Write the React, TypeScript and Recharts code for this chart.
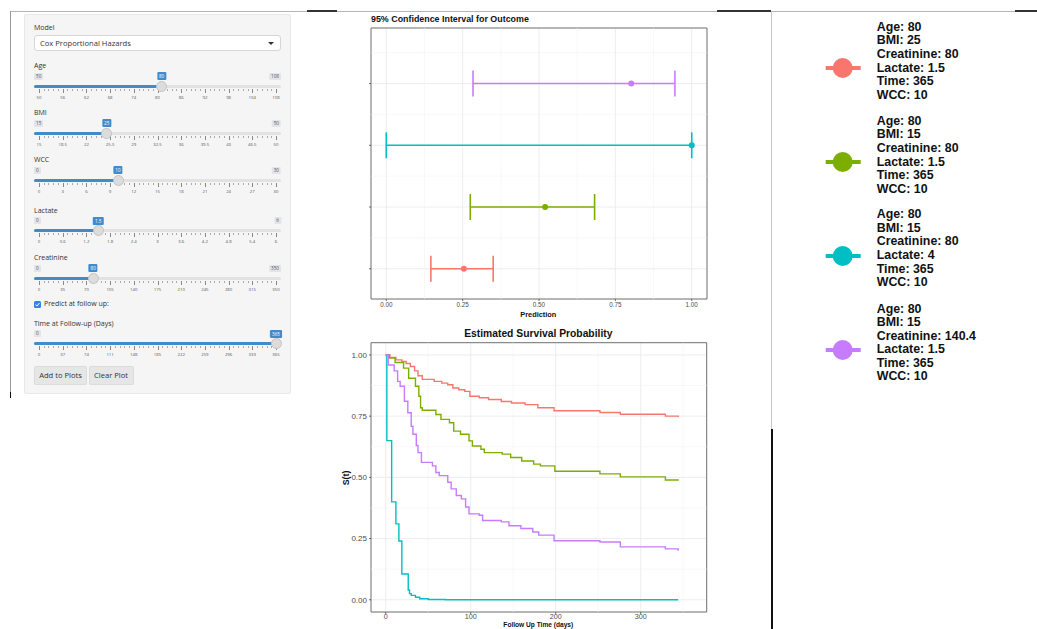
import React from 'react';
import {
  ScatterChart, Scatter, XAxis, YAxis, CartesianGrid, ErrorBar, ReferenceLine, ReferenceArea,
  LineChart, Line,
} from 'recharts';

// ---------------- DATA ----------------
const profileColors = ['#F8766D', '#7CAE00', '#00BFC4', '#C77CFF'];
const profileRows = [1, 2, 3, 4];
const ciEstimate = [0.254, 0.52, 1.0, 0.802];
const ciLower = [0.146, 0.275, 0.0, 0.284];
const ciUpper = [0.35, 0.682, 1.0, 0.945];
const ciXTicks = [0, 0.25, 0.5, 0.75, 1];
const ciXMinor = [0.125, 0.375, 0.625, 0.875];
const ciYMinor = [1.5, 2.5, 3.5, 4.5];

const redTime = [0, 5, 12, 19, 24, 29, 34, 38, 43, 57, 66, 73, 79, 86, 93, 99, 110, 121, 136, 148, 164, 179, 198, 252, 276, 329, 344];
const redSurv = [1, 0.99, 0.98, 0.973, 0.965, 0.953, 0.935, 0.915, 0.9, 0.892, 0.885, 0.878, 0.865, 0.858, 0.851, 0.831, 0.825, 0.818, 0.81, 0.804, 0.797, 0.784, 0.772, 0.765, 0.758, 0.75, 0.747];
const greenTime = [0, 4, 11, 21, 27, 35, 39, 41, 43, 59, 65, 75, 80, 88, 98, 102, 112, 116, 137, 147, 160, 174, 182, 199, 252, 276, 329, 344];
const greenSurv = [1, 0.987, 0.969, 0.946, 0.905, 0.872, 0.831, 0.784, 0.774, 0.757, 0.737, 0.723, 0.689, 0.676, 0.649, 0.628, 0.615, 0.601, 0.595, 0.581, 0.567, 0.554, 0.547, 0.525, 0.514, 0.502, 0.489, 0.486];
const cyanTime = [0, 1.3, 7, 12, 15.5, 19, 26.5, 28, 30, 35, 40, 50, 70, 344];
const cyanSurv = [1, 0.65, 0.4, 0.31, 0.24, 0.105, 0.04, 0.025, 0.018, 0.01, 0.004, 0.001, 0, 0];
const purpleTime = [0, 3, 10, 14, 17, 22, 26, 30, 32, 36, 38, 42, 55, 59, 63, 73, 77, 83, 89, 94, 98, 110, 114, 136, 145, 159, 173, 180, 198, 252, 276, 329, 344];
const purpleSurv = [1, 0.959, 0.935, 0.892, 0.872, 0.811, 0.764, 0.709, 0.676, 0.63, 0.601, 0.561, 0.547, 0.52, 0.507, 0.48, 0.453, 0.426, 0.412, 0.379, 0.351, 0.345, 0.324, 0.318, 0.302, 0.291, 0.277, 0.264, 0.241, 0.236, 0.216, 0.208, 0.2];
const survXTicks = [0, 100, 200, 300];
const survXMinor = [50, 150, 250, 350];
const survYTicks = [0, 0.25, 0.5, 0.75, 1];
const survYMinor = [0.125, 0.375, 0.625, 0.875];

const legendAge = ['80', '80', '80', '80'];
const legendBMI = ['25', '15', '15', '15'];
const legendCreatinine = ['80', '80', '80', '140.4'];
const legendLactate = ['1.5', '1.5', '4', '1.5'];
const legendTime = ['365', '365', '365', '365'];
const legendWCC = ['10', '10', '10', '10'];

// UI sliders
const sliderLabels = ['Age', 'BMI', 'WCC', 'Lactate', 'Creatinine', 'Time at Follow-up (Days)'];
const sliderMin = [50, 15, 0, 0, 0, 0];
const sliderMax = [108, 50, 30, 6, 350, 365];
const sliderValue = [80, 25, 10, 1.5, 80, 365];
const sliderTicks = [
  ['50', '56', '62', '68', '74', '80', '86', '92', '98', '104', '108'],
  ['15', '18.5', '22', '25.5', '29', '32.5', '36', '39.5', '43', '46.5', '50'],
  ['0', '3', '6', '9', '12', '15', '18', '21', '24', '27', '30'],
  ['0', '0.6', '1.2', '1.8', '2.4', '3', '3.6', '4.2', '4.8', '5.4', '6'],
  ['0', '35', '70', '105', '140', '175', '210', '245', '280', '315', '350'],
  ['0', '37', '74', '111', '148', '185', '222', '259', '296', '333', '365'],
];
const sliderTop = [66, 113, 160, 210.7, 258.3, 323.7];

// ---------------- BUILD ----------------
const ciSeries = profileRows.map((r, i) => ({
  color: profileColors[i],
  data: [{ x: ciEstimate[i], y: r, err: [ciEstimate[i] - ciLower[i], ciUpper[i] - ciEstimate[i]] }],
}));
const mk = (t: number[], s: number[]) => t.map((v, i) => ({ t: v, s: s[i] }));
const survSeries = [
  { color: profileColors[0], data: mk(redTime, redSurv) },
  { color: profileColors[1], data: mk(greenTime, greenSurv) },
  { color: profileColors[2], data: mk(cyanTime, cyanSurv) },
  { color: profileColors[3], data: mk(purpleTime, purpleSurv) },
];

const GG = "'Liberation Sans', Arial, Helvetica, sans-serif";
const UI = "'Open Sans', 'Liberation Sans', sans-serif";

function abs(x: number, y: number, extra: React.CSSProperties = {}): React.CSSProperties {
  return { position: 'absolute', left: x, top: y, ...extra };
}

const TRACK_L = 34, TRACK_R = 281, GRID_L = 39, GRID_R = 276;

function Slider({ idx }: { idx: number }) {
  const T = sliderTop[idx];
  const frac = (sliderValue[idx] - sliderMin[idx]) / (sliderMax[idx] - sliderMin[idx]);
  const hx = GRID_L + frac * (GRID_R - GRID_L);
  const ticks = sliderTicks[idx];
  const n = ticks.length - 1;
  const step = (GRID_R - GRID_L) / n;
  const minor: number[] = [];
  for (let k = 0; k < n; k++) for (let m = 1; m < 5; m++) minor.push(GRID_L + k * step + (m * step) / 5);
  const small: React.CSSProperties = { fontFamily: UI, fontSize: 4.6, color: '#555', lineHeight: '7px', height: 7 };
  return (
    <>
      <div style={abs(34, T - 5, { fontFamily: UI, fontSize: 7, color: '#333', lineHeight: '10px' })}>{sliderLabels[idx]}</div>
      <div style={abs(34, T + 6.5, { ...small, background: '#e1e4e9', padding: '0 2px', borderRadius: 1 })}>{String(sliderMin[idx])}</div>
      <div style={abs(TRACK_R, T + 6.5, { ...small, background: '#e1e4e9', padding: '0 2px', borderRadius: 1, transform: 'translateX(-100%)' })}>{String(sliderMax[idx])}</div>
      <div style={abs(hx, T + 6, { ...small, height: 8, lineHeight: '8px', background: '#428bca', color: '#fff', padding: '0 2px', borderRadius: 1, transform: 'translateX(-50%)' })}>{String(sliderValue[idx])}</div>
      <div style={abs(TRACK_L, T + 18.5, { width: TRACK_R - TRACK_L, height: 3, background: '#e2e2e2', borderRadius: 2 })} />
      <div style={abs(TRACK_L, T + 18.5, { width: hx - TRACK_L, height: 3, background: '#428bca', borderRadius: 2 })} />
      {ticks.map((t, k) => (
        <React.Fragment key={k}>
          <div style={abs(GRID_L + k * step, T + 22.5, { width: 0.7, height: 4, background: '#888' })} />
          <div style={abs(GRID_L + k * step, T + 27.5, { ...small, fontSize: 4.3, transform: 'translateX(-50%)', whiteSpace: 'nowrap' })}>{t}</div>
        </React.Fragment>
      ))}
      {minor.map((x, k) => (
        <div key={'m' + k} style={abs(x, T + 22.5, { width: 0.6, height: 2, background: '#aaa' })} />
      ))}
      <div style={abs(hx - 5.5, T + 14.5, { width: 11, height: 11, borderRadius: '50%', background: '#dcdcdc', border: '0.5px solid #c4c4c4', boxSizing: 'border-box' })} />
    </>
  );
}

function LeftPanel() {
  return (
    <>
      <div style={abs(24, 14, { width: 267, height: 380, background: '#f5f5f5', border: '1px solid #e8e8e8', boxSizing: 'border-box', borderRadius: 2 })} />
      <div style={abs(34, 23, { fontFamily: UI, fontSize: 7, color: '#333', lineHeight: '10px' })}>Model</div>
      <div style={abs(34, 35, { width: 247, height: 16, background: '#fff', border: '1px solid #d6d6d6', borderRadius: 3, boxSizing: 'border-box' })} />
      <div style={abs(40, 37.5, { fontFamily: UI, fontSize: 7.6, color: '#333', lineHeight: '11px' })}>Cox Proportional Hazards</div>
      <div style={abs(268, 41.5, { width: 0, height: 0, borderLeft: '3px solid transparent', borderRight: '3px solid transparent', borderTop: '3px solid #333' })} />
      {sliderLabels.map((_, i) => <Slider key={i} idx={i} />)}
      <div style={abs(34, 301, { width: 6.5, height: 6.5, background: '#3a7ef0', borderRadius: 1.5 })} />
      <svg style={abs(34, 301)} width={7} height={7}><path d="M1.5 3.6 L3 5 L5.5 2" stroke="#fff" strokeWidth={1} fill="none" /></svg>
      <div style={abs(44, 299, { fontFamily: UI, fontSize: 7, color: '#333', lineHeight: '10px' })}>Predict at follow up:</div>
      <div style={abs(34, 366, { width: 53, height: 19, background: '#e6e6e6', border: '1px solid #dcdcdc', boxSizing: 'border-box', borderRadius: 2, fontFamily: UI, fontSize: 7.6, color: '#333', textAlign: 'center', lineHeight: '17px' })}>Add to Plots</div>
      <div style={abs(88.5, 366, { width: 45, height: 19, background: '#e6e6e6', border: '1px solid #dcdcdc', boxSizing: 'border-box', borderRadius: 2, fontFamily: UI, fontSize: 7.6, color: '#333', textAlign: 'center', lineHeight: '17px' })}>Clear Plot</div>
    </>
  );
}

const dot = (color: string) => (props: any) => <circle cx={props.cx} cy={props.cy} r={3} fill={color} />;

function CIChart() {
  return (
    <div style={abs(340, 0)}>
      <ScatterChart width={380} height={330} margin={{ top: 28, right: 13, bottom: 17, left: 25 }}>
        <CartesianGrid stroke="#ebebeb" strokeWidth={0.9} />
        {ciXMinor.map((v) => <ReferenceLine key={'x' + v} x={v} stroke="#f3f3f3" strokeWidth={0.6} />)}
        {ciYMinor.map((v) => <ReferenceLine key={'y' + v} y={v} stroke="#f3f3f3" strokeWidth={0.6} />)}
        <XAxis type="number" dataKey="x" domain={[-0.05, 1.05]} ticks={ciXTicks} allowDataOverflow
          tickFormatter={(v: number) => v.toFixed(2)} height={14} axisLine={false} tickSize={2}
          tickLine={{ stroke: '#333', strokeWidth: 0.7 }} tick={{ fontSize: 6.3, fill: '#4d4d4d', fontFamily: GG }} />
        <YAxis type="number" dataKey="y" domain={[0.51, 4.9]} ticks={profileRows} allowDataOverflow
          tickFormatter={() => ''} width={6} axisLine={false} tickSize={2}
          tickLine={{ stroke: '#333', strokeWidth: 0.7 }} />
        {ciSeries.map((s, i) => (
          <Scatter key={i} data={s.data} fill={s.color} shape={dot(s.color)} isAnimationActive={false}>
            <ErrorBar dataKey="err" direction="x" width={13} stroke={s.color} strokeWidth={1.6} />
          </Scatter>
        ))}
        <ReferenceArea x1={-0.05} x2={1.05} y1={0.51} y2={4.9} fill="none" stroke="#666" strokeWidth={0.9} />
      </ScatterChart>
      <div style={abs(31, 12.5, { fontFamily: GG, fontWeight: 'bold', fontSize: 8.9, color: '#111', whiteSpace: 'nowrap', lineHeight: '12px' })}>95% Confidence Interval for Outcome</div>
      <div style={abs(198.3, 310, { fontFamily: GG, fontWeight: 'bold', fontSize: 7.4, color: '#111', transform: 'translateX(-50%)', lineHeight: '10px' })}>Prediction</div>
    </div>
  );
}

function SurvChart() {
  return (
    <div style={abs(340, 320)}>
      <LineChart width={380} height={330} margin={{ top: 22.7, right: 13.3, bottom: 26, left: 6 }}>
        <CartesianGrid stroke="#ebebeb" strokeWidth={0.9} />
        {survXMinor.map((v) => <ReferenceLine key={'x' + v} x={v} stroke="#f3f3f3" strokeWidth={0.6} />)}
        {survYMinor.map((v) => <ReferenceLine key={'y' + v} y={v} stroke="#f3f3f3" strokeWidth={0.6} />)}
        <XAxis type="number" dataKey="t" domain={[-17.3, 377.6]} ticks={survXTicks} allowDataOverflow
          height={12} axisLine={false} tickSize={2} tickMargin={0}
          tickLine={{ stroke: '#333', strokeWidth: 0.7 }} tick={{ fontSize: 7.2, fill: '#4d4d4d', fontFamily: GG }} />
        <YAxis type="number" domain={[-0.05, 1.05]} ticks={survYTicks} allowDataOverflow
          tickFormatter={(v: number) => v.toFixed(2)} width={25} axisLine={false} tickSize={2}
          tickLine={{ stroke: '#333', strokeWidth: 0.7 }} tick={{ fontSize: 8, fill: '#4d4d4d', fontFamily: GG }} />
        {survSeries.map((s, i) => (
          <Line key={i} data={s.data} dataKey="s" type="stepAfter" stroke={s.color} strokeWidth={1.4}
            dot={false} activeDot={false} isAnimationActive={false} />
        ))}
        <ReferenceArea x1={-17.3} x2={377.6} y1={-0.05} y2={1.05} fill="none" stroke="#666" strokeWidth={0.9} />
      </LineChart>
      <div style={abs(198.3, 6.5, { fontFamily: GG, fontWeight: 'bold', fontSize: 10.3, color: '#111', transform: 'translateX(-50%)', whiteSpace: 'nowrap', lineHeight: '14px' })}>Estimated Survival Probability</div>
      <div style={abs(198.3, 302.2, { fontFamily: GG, fontWeight: 'bold', fontSize: 6.6, color: '#111', transform: 'translateX(-50%)', whiteSpace: 'nowrap', lineHeight: '6.8px' })}>Follow Up Time (days)</div>
      <div style={abs(6, 158, { fontFamily: GG, fontWeight: 'bold', fontSize: 8.8, color: '#111', transform: 'translate(-50%,-50%) rotate(-90deg)', whiteSpace: 'nowrap', lineHeight: '12px' })}>S(t)</div>
    </div>
  );
}

function LegendPanel() {
  const tops = [27.7, 121.7, 215, 309.3];
  return (
    <>
      {profileColors.map((c, i) => {
        const lines = [
          `Age: ${legendAge[i]}`, `BMI: ${legendBMI[i]}`, `Creatinine: ${legendCreatinine[i]}`,
          `Lactate: ${legendLactate[i]}`, `Time: ${legendTime[i]}`, `WCC: ${legendWCC[i]}`,
        ];
        return (
          <React.Fragment key={i}>
            <svg style={abs(822, tops[i] + 40.6 - 12)} width={42} height={24}>
              <line x1={3.7} y1={12} x2={38.7} y2={12} stroke={c} strokeWidth={4} />
              <circle cx={20.7} cy={12} r={10} fill={c} />
            </svg>
            <div style={abs(876.7, tops[i] - 6.8, { fontFamily: GG, fontWeight: 'bold', fontSize: 12.4, lineHeight: '13.6px', color: '#111' })}>
              {lines.map((l, k) => <div key={k} style={{ whiteSpace: 'nowrap' }}>{l}</div>)}
            </div>
          </React.Fragment>
        );
      })}
    </>
  );
}

export default function App() {
  return (
    <div style={{ position: 'fixed', left: 0, top: 0, width: 1037, height: 629, overflow: 'hidden', background: '#fff' }}>
      <LeftPanel />
      <CIChart />
      <SurvChart />
      <LegendPanel />
      {/* frame lines */}
      <div style={abs(10, 10.5, { width: 1027, height: 1, background: '#b5b5b5' })} />
      <div style={abs(307, 10, { width: 30, height: 1.8, background: '#333' })} />
      <div style={abs(717, 10, { width: 54, height: 1.8, background: '#333' })} />
      <div style={abs(1015, 10, { width: 22, height: 1.8, background: '#333' })} />
      <div style={abs(10, 11, { width: 1, height: 383, background: '#999' })} />
      <div style={abs(9.5, 392, { width: 1.8, height: 6, background: '#111' })} />
      <div style={abs(771, 11, { width: 1, height: 418, background: '#c8c8c8' })} />
      <div style={abs(771, 429, { width: 1.8, height: 200, background: '#111' })} />
    </div>
  );
}
